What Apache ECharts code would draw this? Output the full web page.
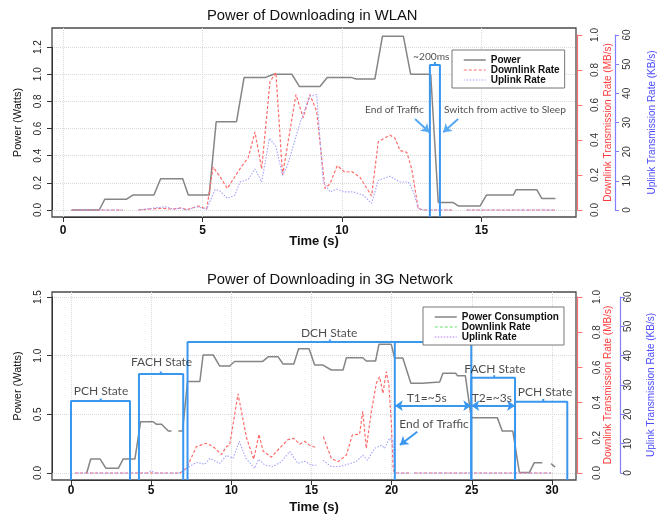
<!DOCTYPE html>
<html><head><meta charset="utf-8">
<script src="https://cdn.jsdelivr.net/npm/echarts@6/dist/echarts.min.js"></script>
<style>html,body{margin:0;padding:0;background:#fff}#c{width:659px;height:515px}</style>
</head><body><div id="c"></div>
<script>
// ---------------- DATA: WLAN (top) ----------------
const WLAN_POWER_T = [0.31,1.3,1.5,2.28,2.5,3.26,3.5,4.29,4.49,5.24,5.49,6.22,6.49,7.24,7.54,8.2,8.47,9.21,9.47,10.35,10.5,11.18,11.45,12.2,12.46,13.18,13.45,13.99,14.17,14.95,15.18,16.14,16.24,16.98,17.16,17.65];
const WLAN_POWER_W = [0,0,0.08,0.08,0.11,0.11,0.23,0.23,0.11,0.11,0.65,0.65,0.975,0.975,1.0,1.0,0.91,0.91,0.975,0.975,0.965,0.965,1.28,1.28,1.0,1.0,0.055,0.055,0.03,0.03,0.11,0.11,0.15,0.15,0.085,0.085];
const WLAN_DL_T = [0.3,2.15,2.4,2.7,3.48,3.95,4.25,4.43,4.84,5.15,5.38,5.63,5.89,6.34,6.64,6.88,7.12,7.42,7.63,7.87,8.35,8.61,8.85,9.09,9.39,9.57,9.83,10.1,10.35,10.64,11.06,11.3,11.72,11.9,12.08,12.32,12.5,12.73,12.9,13.98,14.2,14.47,17.63];
const WLAN_DL_MBS = [0,0,null,0,0.01,0.005,0.013,0,0.023,0.005,0.245,0.19,0.123,0.235,0.30,0.446,0.235,0.734,0.785,0.20,0.66,0.527,0.66,0.565,0.123,0.15,0.254,0.216,0.22,0.188,0.08,0.39,0.428,0.41,0.34,0.33,0.235,0.01,0,0,null,0,0];
const WLAN_UL_T = [0.3,2.15,2.4,2.7,3.35,3.7,3.95,4.25,4.43,4.79,5.15,5.45,5.63,5.89,6.16,6.34,6.64,6.88,7.12,7.4,7.63,7.87,8.05,8.5,8.85,9.09,9.33,9.57,9.81,10.1,10.4,10.76,11.06,11.3,11.72,12.08,12.38,12.56,12.73,12.9,13.98,14.2,14.47,17.63];
const WLAN_UL_KBS = [0,0,null,0,0.8,1.1,0.3,0.7,0,1.1,0.3,7.0,6.5,4.0,5.1,9.6,10.5,14.1,9.6,24.6,21.8,11.9,15.5,30,39,39.6,9.6,6.2,7.2,6.2,6.2,5.1,2.3,10.2,11.6,9.6,9.6,6.2,0.6,0,0,null,0,0];

// ---------------- DATA: 3G (bottom) ----------------
const G3_POWER_T = [0.98,1.23,1.81,2.18,2.95,3.26,3.99,4.34,5.13,5.34,5.65,6.07,6.27,6.5,6.7,6.96,7.27,8.04,8.24,8.87,9.28,9.9,10.2,11.94,12.3,12.92,13.23,13.9,14.2,14.85,15.2,15.72,16.24,16.97,17.18,18.2,18.42,19.0,19.21,19.98,20.19,20.7,21.2,21.9,22.0,23.0,23.2,24.0,24.1,24.6,24.97,26.6,26.9,27.56,27.97,28.6,28.9,29.4,29.7,29.95,30.2];
const G3_POWER_W = [0,0.12,0.12,0.04,0.04,0.12,0.12,0.437,0.437,0.415,0.415,0.358,0.358,null,0.358,0.358,0.78,0.78,1.006,1.006,0.912,0.912,0.95,0.95,0.99,0.99,0.929,0.929,1.06,1.06,0.92,0.92,0.878,0.878,0.983,0.983,0.955,0.955,1.097,1.097,0.98,0.98,0.765,0.765,0.775,0.775,0.85,0.85,0.83,0.83,0.47,0.47,0.358,0.358,0.005,0.005,0.088,0.088,null,0.08,0.05];
const G3_DL_T = [0.25,6.8,7.2,7.83,8.45,8.87,9.39,9.7,9.9,10.42,10.95,11.4,11.73,11.98,12.5,13.02,13.54,13.9,14.27,14.58,14.9,15.3,15.5,15.74,16.24,16.66,17.18,17.55,18.0,18.2,18.42,18.74,19.05,19.25,19.46,19.67,19.83,19.98,20.1,20.2,21.1,21.25,21.4,29.95];
const G3_DL_MBS = [0,0,0.027,0.15,0.169,0.15,0.105,0.15,0.16,0.45,0.2,0.078,0.22,0.125,0.09,0.142,0.19,0.197,0.164,0.18,0.157,0.144,null,0.206,0.083,0.064,0.102,0.216,0.22,0.35,0.14,0.35,0.51,0.547,0.453,0.576,0.5,0.29,0.02,0,0,null,0,0];
const G3_UL_T = [0.25,4.8,5.0,5.2,6.8,7.2,7.83,8.35,8.66,9.28,9.7,10.1,10.5,10.9,11.46,11.7,12.1,12.6,13.13,13.64,14.16,14.58,15.0,15.3,15.5,15.72,16.24,16.76,17.28,17.8,18.2,18.5,18.94,19.36,19.56,19.88,20.08,20.2,21.1,21.25,21.4,29.95];
const G3_UL_KBS = [0,0,0.8,0,0,1.6,3.6,3.0,5.0,3.3,6.0,5.0,10.8,5.1,1.6,4.7,2.7,2.2,3.9,7.3,3.3,4.0,2.7,2.6,null,4.3,2.2,2.2,3.0,3.9,6.1,4.4,8.4,9.5,8.4,11.9,11.0,0,0,null,0,0];

// ---------------- ANNOTATIONS (data coordinates: time, watts) ----------------
// [start time, end time, top (W), notch time]
const WLAN_BRACKETS = [[13.15, 13.51, 1.068, 13.33]];
// [x1, y1, x2, y2, double-headed]
const WLAN_ARROWS = [[12.62, 0.67, 13.13, 0.572, false], [14.16, 0.67, 13.63, 0.572, false]];
const WLAN_NOTES = [['~200ms', 13.2, 1.13], ['End of Traffic', 11.88, 0.736], ['Switch from active to Sleep', 15.84, 0.736]];

const G3_BRACKETS = [[0, 3.68, 0.614, 1.85], [4.24, 7.0, 0.844, 5.6], [7.27, 24.97, 1.117, 16.15], [24.97, 27.7, 0.812, 26.4], [27.7, 30.96, 0.608, 29.46]];
const G3_VLINES = [[20.2, 1.117]];
const G3_ARROWS = [[21.6, 0.352, 20.52, 0.239, false], [20.2, 0.574, 24.97, 0.574, true], [24.97, 0.574, 27.7, 0.574, true]];
const G3_NOTES = [['PCH State', 1.87, 0.70], ['FACH State', 5.65, 0.949], ['DCH State', 16.1, 1.19], ['T1=~5s', 22.19, 0.637], ['T2=~3s', 26.25, 0.637], ['FACH State', 26.45, 0.887], ['PCH State', 29.57, 0.693], ['End of Traffic', 22.65, 0.415]];

// ---------------- LAYOUT ----------------
const LAYOUT = {
  wlan: {box: [52, 28, 524, 189], x0: 63, xs: 27.9, y0: 210, ps: 135.8, rs: 175, xMax: 15, pMax: 1.2, pInt: 0.2, redOff: 1.5, blueOff: 39,
        xLabelMargin: 8, xNameGap: 17.5, powNameGap: 28.5, redNameGap: 25.5, blueNameGap: 32, redLabelMargin: 13, blueLabelMargin: 7.5},
  g3: {box: [52, 292, 524, 188], x0: 71, xs: 16.03, y0: 473, ps: 117.3, rs: 176, xMax: 30, pMax: 1.5, pInt: 0.5, redOff: 1.5, blueOff: 44.7,
        xLabelMargin: 5, xNameGap: 21, powNameGap: 28.5, redNameGap: 25.5, blueNameGap: 26, redLabelMargin: 14.5, blueLabelMargin: 3}
};

const FONT = 'Liberation Sans, Arial, sans-serif';
const NOTE_FONT = 'Lato, Open Sans, sans-serif';
const BLUE_ANN = '#3a97f0';

const grids = [], xAxes = [], yAxes = [], series = [];
function addGrid(o) { grids.push(Object.assign({containLabel: false, outerBoundsMode: 'none'}, o)); return grids.length - 1; }
function axisBase(o) {
  const a = Object.assign({type: 'value', nameMoveOverlap: false}, o);
  a.axisLine = Object.assign({onZero: false}, a.axisLine || {});
  return a;
}
function addX(o) { xAxes.push(axisBase(o)); return xAxes.length - 1; }
function addY(o) { yAxes.push(axisBase(o)); return yAxes.length - 1; }

function makeChart(c) {
  const [bl, bt, bw, bh] = c.box;
  const bb = bt + bh, br = bl + bw;
  const gBox = addGrid({left: bl, top: bt, width: bw, height: bh, show: true, borderColor: '#4a4a4a', borderWidth: 1.3, backgroundColor: 'rgba(0,0,0,0)'});
  const noAx = () => ({axisLine: {show: false}, axisTick: {show: false}, axisLabel: {show: false}, splitLine: {show: false}});
  const xBox = addX(Object.assign({gridIndex: gBox, position: 'bottom', min: (bl - c.x0) / c.xs, max: (br - c.x0) / c.xs,
    name: 'Time (s)', nameLocation: 'middle', nameGap: c.xNameGap,
    nameTextStyle: {fontFamily: FONT, fontSize: 13, fontWeight: 'bold', color: '#111'}}, noAx()));
  const pMin = -(bb - c.y0) / c.ps, pMax = (c.y0 - bt) / c.ps;
  const yPow = addY(Object.assign({gridIndex: gBox, position: 'left', min: pMin, max: pMax,
    name: 'Power (Watts)', nameLocation: 'middle', nameRotate: 90, nameGap: c.powNameGap,
    nameTextStyle: {fontFamily: FONT, fontSize: 11, color: '#111'}}, noAx()));
  const rMin = -(bb - c.y0) / c.rs, rMax = (c.y0 - bt) / c.rs;
  const yRed = addY({gridIndex: gBox, position: 'right', min: rMin, max: rMax, show: false});
  const yBlue = addY({gridIndex: gBox, position: 'right', offset: 40, min: rMin * 60, max: rMax * 60, show: false});

  const gP = addGrid({left: bl, top: c.y0 - c.pMax * c.ps, width: bw, height: c.pMax * c.ps});
  addX({gridIndex: gP, min: 0, max: 1, show: false});
  addY({gridIndex: gP, position: 'left', min: 0, max: c.pMax, interval: c.pInt,
    axisLine: {show: true, lineStyle: {color: '#333', width: 1}},
    axisTick: {show: true, length: 5, lineStyle: {color: '#333'}},
    axisLabel: {rotate: 90, margin: 9, fontSize: 10, color: '#222', fontFamily: FONT, formatter: v => v.toFixed(1)},
    splitLine: {show: true, lineStyle: {color: '#d9d9d9', type: 'dotted', width: 1}}});

  const gX = addGrid({left: c.x0, top: bt, width: c.xMax * c.xs, height: bh});
  addX({gridIndex: gX, position: 'bottom', min: 0, max: c.xMax, interval: 5,
    axisLine: {show: true, lineStyle: {color: '#333', width: 1}},
    axisTick: {show: true, length: 5, lineStyle: {color: '#333'}},
    axisLabel: {margin: c.xLabelMargin, fontSize: 12, fontWeight: 'bold', color: '#111', fontFamily: FONT},
    splitLine: {show: true, lineStyle: {color: '#d9d9d9', type: 'dotted', width: 1}}});
  addY({gridIndex: gX, min: 0, max: 1, show: false});

  const gR = addGrid({left: bl, top: c.y0 - c.rs, width: bw, height: c.rs});
  addX({gridIndex: gR, min: 0, max: 1, show: false});
  addY({gridIndex: gR, position: 'right', offset: c.redOff, min: 0, max: 1, interval: 0.2,
    name: 'Downlink Transmission Rate (MB/s)', nameLocation: 'middle', nameRotate: 90, nameGap: c.redNameGap,
    nameTextStyle: {fontFamily: FONT, fontSize: 10, color: '#ff3b3b'},
    axisLine: {show: true, lineStyle: {color: '#ff6f6f', width: 1.2}},
    axisTick: {show: true, length: 5, lineStyle: {color: '#ff6f6f'}},
    axisLabel: {rotate: 90, margin: c.redLabelMargin, fontSize: 10, color: '#333', fontFamily: FONT, formatter: v => v.toFixed(1)},
    splitLine: {show: false}});
  addY({gridIndex: gR, position: 'right', offset: c.blueOff, min: 0, max: 60, interval: 10,
    name: 'Uplink Transmission Rate (KB/s)', nameLocation: 'middle', nameRotate: 90, nameGap: c.blueNameGap,
    nameTextStyle: {fontFamily: FONT, fontSize: 10, color: '#4b4bff'},
    axisLine: {show: true, lineStyle: {color: '#8080ff', width: 1.2}},
    axisTick: {show: true, length: 4, lineStyle: {color: '#8080ff'}},
    axisLabel: {rotate: 90, margin: c.blueLabelMargin, fontSize: 10, color: '#333', fontFamily: FONT},
    splitLine: {show: false}});
  return {xBox, yPow, yRed, yBlue, pMin};
}

function pairs(ts, vs) { return ts.map((t, i) => [t, vs[i] === null ? '-' : vs[i]]); }

function dataSeries(ax, name, ts, vs, yIdx, style) {
  series.push({type: 'line', name, xAxisIndex: ax.xBox, yAxisIndex: yIdx, data: pairs(ts, vs),
    symbol: 'none', showSymbol: false, connectNulls: false, clip: false, z: 3,
    lineStyle: style, itemStyle: {color: style.color}});
}

function annotations(ax, brackets, vlines, arrows, notes, fontSize, arrowColor) {
  const notch = 0.022;
  brackets.forEach(b => {
    const [x1, x2, topY, mid] = b;
    series.push({type: 'line', name: 'bracket' + series.length, xAxisIndex: ax.xBox, yAxisIndex: ax.yPow,
      data: [[x1, ax.pMin], [x1, topY], [mid, topY], [mid, topY + notch], [mid, topY], [x2, topY], [x2, ax.pMin]],
      symbol: 'none', clip: false, z: 4, lineStyle: {color: BLUE_ANN, width: 2}, silent: true});
  });
  vlines.forEach(v => {
    series.push({type: 'line', name: 'vline' + series.length, xAxisIndex: ax.xBox, yAxisIndex: ax.yPow,
      data: [[v[0], v[1]], [v[0], ax.pMin]], symbol: 'none', clip: false, z: 4,
      lineStyle: {color: BLUE_ANN, width: 2}, silent: true});
  });
  series.push({type: 'scatter', name: 'notes' + series.length, xAxisIndex: ax.xBox, yAxisIndex: ax.yPow,
    data: notes.map(n => ({value: [n[1], n[2]], name: n[0]})), symbolSize: 1, z: 6, silent: true,
    itemStyle: {color: 'rgba(0,0,0,0)'},
    label: {show: true, position: 'inside', formatter: p => p.name, fontFamily: NOTE_FONT, fontSize, color: '#1e1e1e'},
    markLine: {silent: true, animation: false, symbol: ['none', 'arrow'], symbolSize: 8,
      lineStyle: {color: arrowColor, width: 2, type: 'solid'}, label: {show: false},
      data: arrows.map(a => [{coord: [a[0], a[1]], symbol: a[4] ? 'arrow' : 'none'}, {coord: [a[2], a[3]], symbol: 'arrow'}])}});
}

const axWlan = makeChart(LAYOUT.wlan);
const axG3 = makeChart(LAYOUT.g3);

const POWER_STYLE = {color: '#858585', width: 1.5, type: 'solid'};
const DL_STYLE = {color: '#ff6b6b', width: 1.2, type: [3, 2]};
const UL_STYLE = {color: '#a3a3ff', width: 1.1, type: [1.5, 1.5]};

dataSeries(axWlan, 'Power', WLAN_POWER_T, WLAN_POWER_W, axWlan.yPow, POWER_STYLE);
dataSeries(axWlan, 'Downlink Rate', WLAN_DL_T, WLAN_DL_MBS, axWlan.yRed, DL_STYLE);
dataSeries(axWlan, 'Uplink Rate', WLAN_UL_T, WLAN_UL_KBS, axWlan.yBlue, UL_STYLE);
dataSeries(axG3, 'Power Consumption', G3_POWER_T, G3_POWER_W, axG3.yPow, POWER_STYLE);
dataSeries(axG3, 'Downlink Rate (3G)', G3_DL_T, G3_DL_MBS, axG3.yRed, DL_STYLE);
dataSeries(axG3, 'Uplink Rate (3G)', G3_UL_T, G3_UL_KBS, axG3.yBlue, UL_STYLE);

annotations(axWlan, WLAN_BRACKETS, [], WLAN_ARROWS, WLAN_NOTES, 10.2, '#56a9f2');
annotations(axG3, G3_BRACKETS, G3_VLINES, G3_ARROWS, G3_NOTES, 12, BLUE_ANN);

const legendBase = {orient: 'vertical', itemWidth: 22, itemHeight: 8, itemGap: 0, padding: [5, 5, 3, 11],
  borderColor: '#777', borderWidth: 1, backgroundColor: '#fff', selectedMode: false, z: 8,
  itemStyle: {opacity: 0},
  textStyle: {fontFamily: FONT, fontSize: 10, fontWeight: 'bold', color: '#111', lineHeight: 9}};

const option = {
  animation: false,
  backgroundColor: '#fff',
  title: [
    {text: 'Power of Downloading in WLAN', left: 207, top: 8, padding: 0, textStyle: {fontFamily: FONT, fontSize: 14.8, fontWeight: 'normal', color: '#111'}},
    {text: 'Power of Downloading in 3G Network', left: 207, top: 272, padding: 0, textStyle: {fontFamily: FONT, fontSize: 14.8, fontWeight: 'normal', color: '#111'}}
  ],
  legend: [
    Object.assign({}, legendBase, {left: 452, top: 50,
      data: [{name: 'Power', lineStyle: {width: 1.5}}, {name: 'Downlink Rate', lineStyle: {width: 1.2}}, {name: 'Uplink Rate', lineStyle: {width: 1.1}}]}),
    Object.assign({}, legendBase, {left: 423, top: 307,
      formatter: n => n.replace(' (3G)', ''),
      data: [{name: 'Power Consumption', lineStyle: {width: 1.5}},
             {name: 'Downlink Rate (3G)', lineStyle: {color: '#66e066', width: 1.2}},
             {name: 'Uplink Rate (3G)', lineStyle: {color: '#b47cff', width: 1.1}}]})
  ],
  grid: grids, xAxis: xAxes, yAxis: yAxes, series
};

const chart = echarts.init(document.getElementById('c'), null, {renderer: 'canvas'});
chart.setOption(option);
</script></body></html>
